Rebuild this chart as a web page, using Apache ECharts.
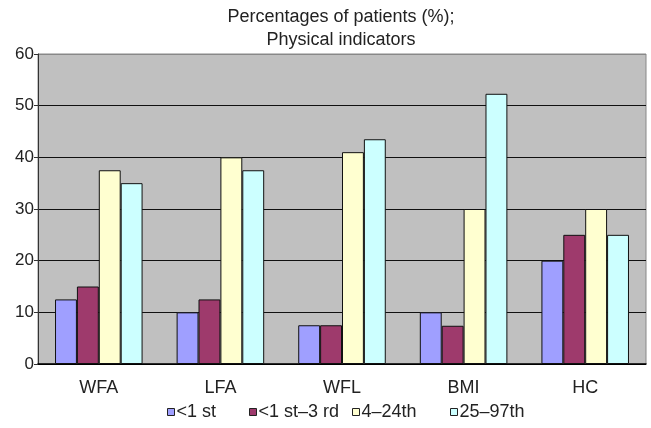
<!DOCTYPE html>
<html><head><meta charset="utf-8">
<script src="https://cdn.jsdelivr.net/npm/echarts@6/dist/echarts.min.js"></script>
<style>html,body{margin:0;padding:0;background:#fff}#c{width:651px;height:428px}</style>
</head><body><div id="c"></div>
<script>
const categories = ['WFA', 'LFA', 'WFL', 'BMI', 'HC'];
const seriesNames = ['<1 st', '<1 st\u20133 rd', '4\u201324th', '25\u201397th'];
const lt1 = [12.5, 10, 7.5, 10, 20];
const lt1to3 = [15, 12.5, 7.5, 7.4, 25];
const p4to24 = [37.5, 40, 41, 30, 30];
const p25to97 = [35, 37.5, 43.5, 52.3, 25];
const yTicks = [0, 10, 20, 30, 40, 50, 60];

const colors = ['#9f9fff', '#9e3a6c', '#ffffd0', '#ccffff'];
const values = [lt1, lt1to3, p4to24, p25to97];
const font = '"Liberation Sans", Arial, sans-serif';
const chart = echarts.init(document.getElementById('c'));
const legendLefts = [167, 249, 352, 450];
chart.setOption({
  animation: false,
  backgroundColor: '#fff',
  title: {
    text: 'Percentages of patients (%);\nPhysical indicators',
    left: 336, top: 1, textAlign: 'center',
    textStyle: {fontFamily: font, fontSize: 18, fontWeight: 'normal', color: '#222', lineHeight: 23}
  },
  legend: seriesNames.map((n, i) => ({
    data: [n], left: legendLefts[i], top: 403, padding: 0,
    itemWidth: 7, itemHeight: 7, itemGap: 4, icon: 'rect',
    itemStyle: {borderColor: '#222', borderWidth: 1},
    textStyle: {fontFamily: font, fontSize: 18, color: '#222', padding: [0, 0, 0, -3]}
  })),
  grid: {left: 38, right: 5, top: 54, bottom: 64, show: true, backgroundColor: '#c0c0c0', borderColor: '#888', borderWidth: 1},
  xAxis: {
    type: 'category', data: categories,
    axisLine: {lineStyle: {color: '#000', width: 1.5}},
    axisTick: {inside: true, length: 4, lineStyle: {color: '#000'}},
    axisLabel: {fontFamily: font, fontSize: 18, color: '#222', margin: 15}
  },
  yAxis: {
    type: 'value', min: yTicks[0], max: yTicks[yTicks.length - 1], interval: 10,
    axisLine: {show: true, lineStyle: {color: '#333'}},
    axisTick: {show: true, length: 4, lineStyle: {color: '#333'}},
    axisLabel: {fontFamily: font, fontSize: 17, color: '#222', margin: 4},
    splitLine: {lineStyle: {color: ['#000', '#111', '#111', '#111', '#111', '#111', '#888'], width: 1.2}}
  },
  series: seriesNames.map((n, i) => ({
    name: n, type: 'bar', data: values[i],
    barGap: '0%', barCategoryGap: '28%',
    itemStyle: {color: colors[i], borderColor: '#111', borderWidth: 1}
  }))
});
</script></body></html>
